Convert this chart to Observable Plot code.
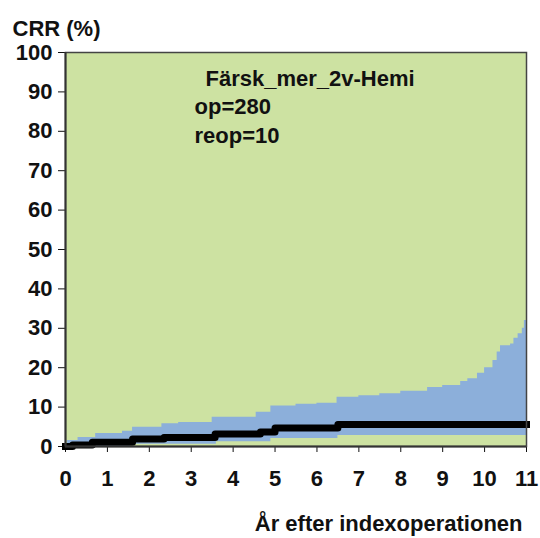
<!DOCTYPE html>
<html>
<head>
<meta charset="utf-8">
<script src="https://cdn.jsdelivr.net/npm/d3@7"></script>
<script src="https://cdn.jsdelivr.net/npm/@observablehq/plot@0.6"></script>
<style>
  html, body { margin: 0; padding: 0; background: #fff; }
</style>
</head>
<body>
<div id="chart"></div>
<script>
// Upper confidence limit (step function)
const upperT = [0, 0.05, 0.3, 0.72, 1.36, 1.6, 2.3, 2.7, 3.5, 4.55, 4.9, 5.5, 6.0, 6.48, 7.0, 7.5, 8.0, 8.64, 9.0, 9.43, 9.6, 9.83, 10.0, 10.2, 10.3, 10.38, 10.62, 10.7, 10.8, 10.9, 10.95, 11];
const upperV = [0, 1.5, 2.3, 3.3, 3.9, 4.9, 5.8, 6.1, 7.4, 8.7, 10.3, 10.7, 11.0, 12.5, 12.9, 13.4, 14.0, 15.0, 15.5, 16.5, 17.2, 18.6, 20.0, 21.8, 24.0, 25.6, 26.0, 27.5, 28.6, 30.0, 32.0, 33.0];
// Lower confidence limit
const lowerT = [0, 1.55, 3.6, 4.9, 6.5, 11];
const lowerV = [0, 0.6, 1.2, 2.0, 2.8, 2.8];
// Estimate (CRR)
const estT = [0, 0.17, 0.64, 1.6, 2.35, 3.57, 4.65, 5.0, 6.5, 11];
const estV = [0, 0.4, 1.1, 1.9, 2.3, 3.2, 3.7, 4.7, 5.6, 5.6];

const xTicks = [0, 1, 2, 3, 4, 5, 6, 7, 8, 9, 10, 11];
const yTicks = [0, 10, 20, 30, 40, 50, 60, 70, 80, 90, 100];
const annotation = ["Färsk_mer_2v-Hemi", "op=280", "reop=10"];
const yTitle = "CRR (%)";
const xTitle = "År efter indexoperationen";

const upper = upperT.map((t, i) => ({t, v: upperV[i]}));
const lower = lowerT.map((t, i) => ({t, v: lowerV[i]}));
const est = estT.map((t, i) => ({t, v: estV[i]}));

const GREEN = "#cde2a2";
const BLUE = "#8cafda";
const FS = 22;

const chart = Plot.plot({
  width: 540,
  height: 538,
  marginLeft: 65,
  marginRight: 14,
  marginTop: 52,
  marginBottom: 92,
  style: {fontFamily: "'Liberation Sans', Arial, sans-serif", fontSize: FS + "px", fontWeight: "bold", color: "#111", background: "#fff"},
  x: {domain: [0, 11], ticks: xTicks, tickSize: 6, tickPadding: 18, label: null},
  y: {domain: [0, 100], ticks: yTicks, tickSize: 7, tickPadding: 6, label: null},
  marks: [
    Plot.frame({fill: GREEN, stroke: null}),
    Plot.areaY(upper, {x: "t", y: "v", curve: "step-after", fill: BLUE}),
    Plot.areaY(lower, {x: "t", y: "v", curve: "step-after", fill: GREEN}),
    Plot.lineY(est, {x: "t", y: "v", curve: "step-after", stroke: "#000", strokeWidth: 7, strokeLinecap: "square"}),
    Plot.frame({stroke: "#444", strokeWidth: 1.5}),
    Plot.ruleX([0], {stroke: "#333", strokeWidth: 2}),
    Plot.ruleY([0], {stroke: "#333", strokeWidth: 2}),
    Plot.text([annotation[0]], {text: d => d, frameAnchor: "top-left", textAnchor: "start", lineAnchor: "middle", dx: 140, dy: 26, fontSize: FS}),
    Plot.text([annotation[1]], {text: d => d, frameAnchor: "top-left", textAnchor: "start", lineAnchor: "middle", dx: 129, dy: 54, fontSize: FS}),
    Plot.text([annotation[2]], {text: d => d, frameAnchor: "top-left", textAnchor: "start", lineAnchor: "middle", dx: 129, dy: 83, fontSize: FS}),
    Plot.text([yTitle], {text: d => d, frameAnchor: "top-left", textAnchor: "start", lineAnchor: "middle", dx: -53, dy: -24, fontSize: FS}),
    Plot.text([xTitle], {text: d => d, frameAnchor: "bottom-right", textAnchor: "end", lineAnchor: "middle", dx: -4, dy: 77, fontSize: FS})
  ]
});
document.getElementById("chart").appendChild(chart);
</script>
</body>
</html>
